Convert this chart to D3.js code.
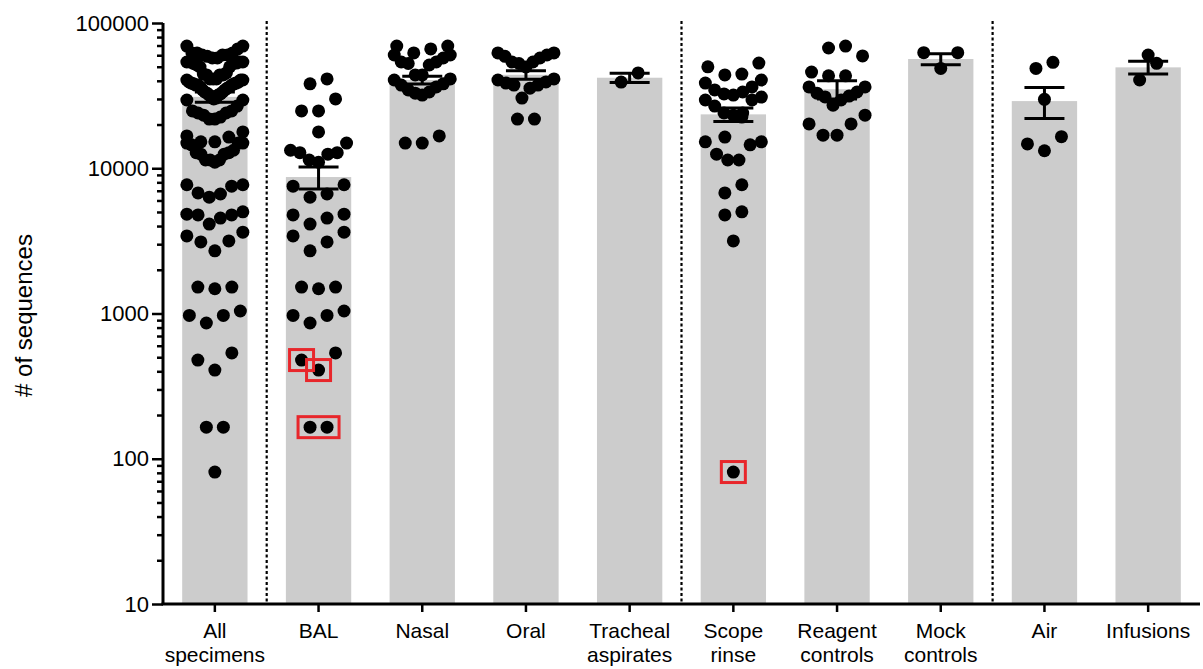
<!DOCTYPE html>
<html>
<head>
<meta charset="utf-8">
<script src="https://cdn.jsdelivr.net/npm/d3@7"></script>
<style>
  html, body { margin: 0; padding: 0; background: #fff; }
  svg { display: block; font-family: "Liberation Sans", Arial, sans-serif; }
</style>
</head>
<body>
<svg id="chart" width="1203" height="669"></svg>
<script>
// Group names and their two-line axis labels
const categories = ["All specimens", "BAL", "Nasal", "Oral", "Tracheal aspirates",
  "Scope rinse", "Reagent controls", "Mock controls", "Air", "Infusions"];
const categoryLabels = [["All", "specimens"], ["BAL"], ["Nasal"], ["Oral"], ["Tracheal", "aspirates"],
  ["Scope", "rinse"], ["Reagent", "controls"], ["Mock", "controls"], ["Air"], ["Infusions"]];

// Sequence counts per sample
const balValues = [41200, 38100, 30000, 24800, 24800, 17800, 14900, 13300, 12800, 12800, 12500,
  11400, 11000, 7700, 7530, 6650, 6320, 4830, 4770, 4540, 4130, 3630, 3420, 3110, 2700,
  1520, 1520, 1480, 1040, 970, 970, 860, 535, 478, 408, 165, 165];
const nasalValues = [69400, 69400, 66300, 62200, 60200, 60200, 57400, 53900, 53900, 52600, 51400,
  43900, 43900, 41200, 40500, 38100, 37400, 36300, 34600, 33500, 32900, 31900, 16700, 14900, 14900];
const oralValues = [62200, 62200, 60200, 59000, 57400, 53900, 53900, 52600, 49800, 41200, 40500,
  39300, 38600, 37400, 37400, 35600, 30400, 21800, 21800];
const trachealValues = [45300, 39200];
const scopeValues = [53000, 49900, 44500, 43900, 40500, 38600, 36300, 34600, 33500, 32500, 31900,
  30900, 29500, 29500, 26800, 24000, 24000, 23200, 22500, 16400, 15200, 15200, 14500, 12500,
  11400, 11400, 7700, 6760, 5010, 4770, 3160, 81];
const reagentValues = [69400, 67300, 59300, 45900, 43300, 43300, 36300, 36300, 33500, 32900, 31400,
  31000, 29500, 27200, 23200, 20200, 20200, 16900, 16900];
const mockValues = [62500, 62500, 48700];
const airValues = [53600, 48700, 29800, 16500, 14700, 13200];
const infusionValues = [60200, 52800, 40500];

// Bar heights (mean) and error bars (SEM)
const means = [31000, 8700, 40500, 44000, 42000, 23500, 35000, 56500, 29000, 49500];
const sems = [2500, 1500, 2500, 3000, 3000, 2500, 5000, 5000, 7000, 5000];

// Y axis decades
const yTicks = [10, 100, 1000, 10000, 100000];

// Separators drawn after these groups
const separatorsAfter = ["All specimens", "Tracheal aspirates", "Mock controls"];

// Samples marked with a red frame
const highlights = [
  { group: "BAL", values: [478] },
  { group: "BAL", values: [408] },
  { group: "BAL", values: [165, 165] },
  { group: "Scope rinse", values: [81] }
];

// "All specimens" pools every clinical specimen group
const allSpecimens = [].concat(balValues, nasalValues, oralValues, trachealValues, scopeValues);
const groupValues = [allSpecimens, balValues, nasalValues, oralValues, trachealValues,
  scopeValues, reagentValues, mockValues, airValues, infusionValues];

const svg = d3.select("#chart");
const plotLeft = 163, plotRight = 1200, plotTop = 23, plotBottom = 604;

const x = d3.scaleBand().domain(categories).range([plotLeft, plotRight])
  .paddingInner(0.37).paddingOuter(0.185);
const y = d3.scaleLog().domain([10, 100000]).range([plotBottom, plotTop]);

// Bars
svg.append("g").selectAll("rect").data(categories).join("rect")
  .attr("x", d => x(d))
  .attr("width", x.bandwidth())
  .attr("y", (d, i) => y(means[i]))
  .attr("height", (d, i) => plotBottom - y(means[i]))
  .attr("fill", "#cccccc");

// Dotted separators between group blocks
const step = x.step();
svg.append("g").selectAll("line").data(separatorsAfter).join("line")
  .attr("x1", d => x(d) + x.bandwidth() / 2 + step / 2)
  .attr("x2", d => x(d) + x.bandwidth() / 2 + step / 2)
  .attr("y1", plotTop - 2).attr("y2", plotBottom)
  .attr("stroke", "#000").attr("stroke-width", 2.2)
  .attr("stroke-dasharray", "3,2.5");

// Error bars (mean ± SEM)
const capHalf = 20;
const eb = svg.append("g").attr("stroke", "#000").attr("stroke-width", 3);
categories.forEach((c, i) => {
  const cx = x(c) + x.bandwidth() / 2;
  const yHi = y(means[i] + sems[i]), yLo = y(means[i] - sems[i]);
  eb.append("line").attr("x1", cx).attr("x2", cx).attr("y1", yHi).attr("y2", yLo);
  eb.append("line").attr("x1", cx - capHalf).attr("x2", cx + capHalf).attr("y1", yHi).attr("y2", yHi);
  eb.append("line").attr("x1", cx - capHalf).attr("x2", cx + capHalf).attr("y1", yLo).attr("y2", yLo);
});

// Scatter layout: rows of nearby values, lowest value in the middle, spreading outwards
const binH = 20, spacing = 17, maxHalf = 28;
function swarm(values) {
  const pts = values.map((v, i) => ({ v, i, py: y(v) })).sort((a, b) => b.py - a.py);
  const bins = [];
  let cur = null;
  for (const p of pts) {
    if (!cur || cur.start - p.py > binH) { cur = { start: p.py, items: [] }; bins.push(cur); }
    cur.items.push(p);
  }
  for (const b of bins) {
    const n = b.items.length;
    const gap = n > 1 ? Math.min(spacing, 2 * maxHalf / (n - 1)) : 0;
    b.items.sort((a, c) => a.v - c.v);
    b.items.forEach((p, k) => {
      let slot;
      if (n % 2 === 1) slot = k === 0 ? 0 : (k % 2 === 1 ? -Math.ceil(k / 2) : Math.ceil(k / 2));
      else slot = (k % 2 === 0 ? -1 : 1) * (Math.floor(k / 2) + 0.5);
      p.dx = slot * gap;
    });
  }
  return pts;
}

const layouts = {};
const dots = svg.append("g");
categories.forEach((c, i) => {
  const cx = x(c) + x.bandwidth() / 2;
  const pts = swarm(groupValues[i]);
  pts.forEach(p => { p.cx = cx + p.dx; });
  layouts[c] = pts;
  dots.selectAll(null).data(pts).join("circle")
    .attr("cx", d => d.cx).attr("cy", d => d.py).attr("r", 6.5).attr("fill", "#000");
});

// Red frames around marked samples
const hl = svg.append("g").attr("fill", "none").attr("stroke", "#e8262b").attr("stroke-width", 3);
const used = new Set();
highlights.forEach(h => {
  const sel = [];
  h.values.forEach(v => {
    const p = layouts[h.group].find(q => q.v === v && !used.has(q));
    if (p) { used.add(p); sel.push(p); }
  });
  const x0 = d3.min(sel, p => p.cx) - 12, x1 = d3.max(sel, p => p.cx) + 12;
  const y0 = d3.min(sel, p => p.py) - 10.5, y1 = d3.max(sel, p => p.py) + 10.5;
  hl.append("rect").attr("x", x0).attr("y", y0).attr("width", x1 - x0).attr("height", y1 - y0);
});

// Y axis: labelled decades plus unlabelled minor ticks
const minor = [];
for (let d = 10; d < 100000; d *= 10) for (let m = 2; m <= 9; m++) minor.push(d * m);

const yAxis = svg.append("g").attr("transform", `translate(${plotLeft},0)`)
  .call(d3.axisLeft(y).tickValues(yTicks).tickSize(11).tickPadding(3).tickFormat(d3.format("d")));
svg.append("g").attr("transform", `translate(${plotLeft},0)`)
  .call(d3.axisLeft(y).tickValues(minor).tickSize(6).tickFormat(""))
  .call(g => g.select(".domain").remove())
  .selectAll("line").attr("stroke-width", 2.5);
yAxis.select(".domain").attr("stroke-width", 3).attr("d", `M0,${plotTop}V${plotBottom}`);
yAxis.selectAll(".tick line").attr("stroke-width", 2.5);
yAxis.selectAll(".tick text").attr("font-size", 22).attr("fill", "#000")
  .attr("font-family", "Liberation Sans, Arial, sans-serif");

// X axis with multi-line labels
const xAxis = svg.append("g").attr("transform", `translate(0,${plotBottom})`)
  .call(d3.axisBottom(x).tickSize(8).tickFormat(""));
xAxis.select(".domain").attr("stroke-width", 3).attr("d", `M${plotLeft - 1.5},0H${plotRight}`);
xAxis.selectAll(".tick line").attr("stroke-width", 2.5);
xAxis.selectAll(".tick").each(function (d, i) {
  const t = d3.select(this).append("text")
    .attr("fill", "#000").attr("font-size", 21).attr("text-anchor", "middle")
    .attr("font-family", "Liberation Sans, Arial, sans-serif");
  categoryLabels[i].forEach((line, k) => {
    t.append("tspan").attr("x", 0).attr("y", 34 + k * 24).text(line);
  });
});

// Y axis title
svg.append("text")
  .attr("transform", `translate(32,${(plotTop + plotBottom) / 2 + 2}) rotate(-90)`)
  .attr("text-anchor", "middle").attr("font-size", 24).attr("fill", "#000")
  .text("# of sequences");
</script>
</body>
</html>
